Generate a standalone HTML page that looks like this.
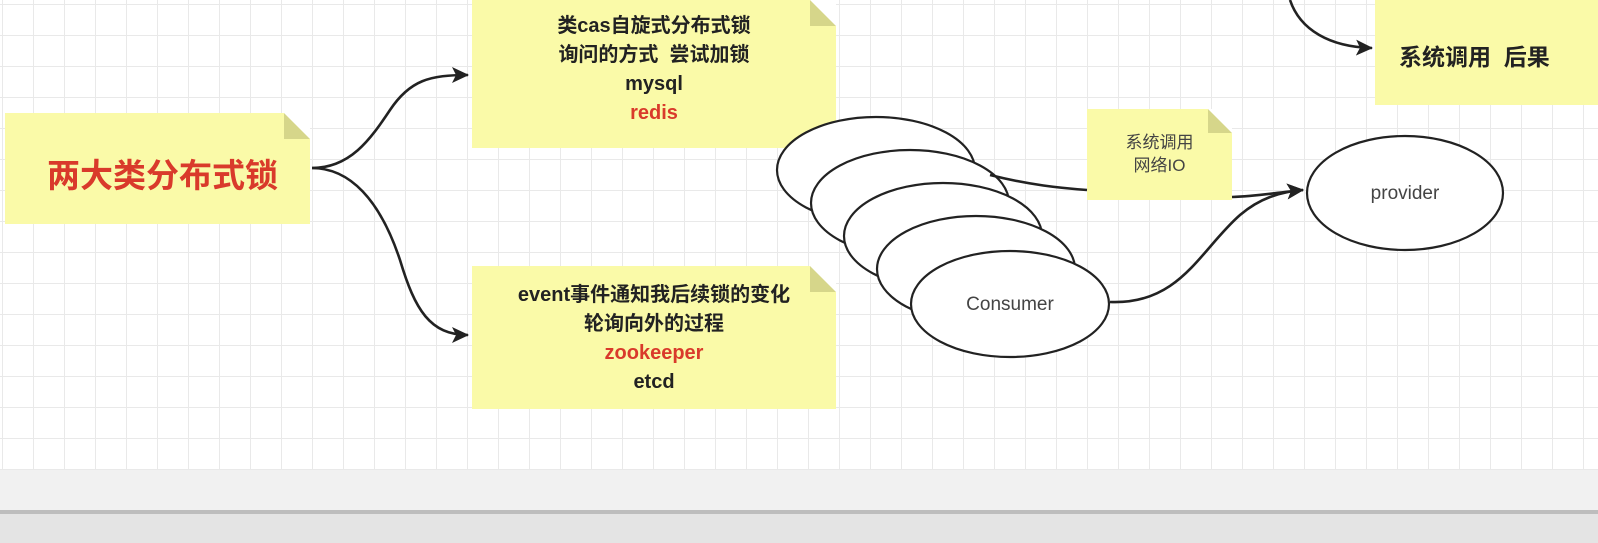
<!DOCTYPE html>
<html><head><meta charset="utf-8"><style>
html,body{margin:0;padding:0}
body{width:1598px;height:543px;overflow:hidden;position:relative;background:#fff;font-family:"Liberation Sans","Noto Sans CJK SC",sans-serif}
.grid{position:absolute;left:0;top:0;width:1598px;height:470px;background-image:linear-gradient(#e9e9e9 1px,transparent 1px),linear-gradient(90deg,#e9e9e9 1px,transparent 1px);background-size:31px 31px;background-position:2px 4px}
.note{position:absolute;background:#fafaa8;text-align:center;font-weight:bold;color:#222}
.fold{position:absolute;right:0;top:0;width:0;height:0;border-style:solid}
</style></head><body>
<div class="grid"></div>
<div style="position:absolute;left:0;top:470px;width:1598px;height:42px;background:#f1f1f1"></div>
<div style="position:absolute;left:0;top:510px;width:1598px;height:4px;background:#bdbdbd"></div>
<div style="position:absolute;left:0;top:514px;width:1598px;height:29px;background:#e4e4e4"></div>

<div class="note" style="left:5px;top:113px;width:305px;height:111px;">
<div class="fold" style="border-width:0 26px 26px 0;border-color:transparent #fff #d6d68a transparent"></div>
<div style="position:absolute;left:0;width:315px;top:36px;font-size:33px;color:#d93a2b">两大类分布式锁</div></div>

<div class="note" style="left:472px;top:0;width:364px;height:148px;font-size:20px;line-height:29px">
<div class="fold" style="border-width:0 26px 26px 0;border-color:transparent #fff #d6d68a transparent"></div>
<div style="padding-top:12px">类cas自旋式分布式锁<br>询问的方式&nbsp; 尝试加锁<br>mysql<br><span style="color:#d93a2b">redis</span></div></div>

<div class="note" style="left:472px;top:266px;width:364px;height:143px;font-size:20px;line-height:29px">
<div class="fold" style="border-width:0 26px 26px 0;border-color:transparent #fff #d6d68a transparent"></div>
<div style="padding-top:15px">event事件通知我后续锁的变化<br>轮询向外的过程<br><span style="color:#d93a2b">zookeeper</span><br>etcd</div></div>

<div class="note" style="left:1087px;top:109px;width:145px;height:91px;font-size:17px;font-weight:normal;color:#444;line-height:23px">
<div class="fold" style="border-width:0 24px 24px 0;border-color:transparent #fff #d6d68a transparent"></div>
<div style="padding-top:22px">系统调用<br>网络IO</div></div>

<div class="note" style="left:1375px;top:0;width:223px;height:105px;font-size:23px;text-align:left">
<div style="padding:38px 0 0 24px">系统调用&nbsp; 后果</div></div>

<svg width="1598" height="543" style="position:absolute;left:0;top:0">
<defs><marker id="a" markerWidth="18" markerHeight="16" refX="16" refY="8" orient="auto" markerUnits="userSpaceOnUse"><path d="M0,0 L17,8 L0,16 L4,8 z" fill="#222"/></marker></defs>
<g fill="none" stroke="#222" stroke-width="2.6">
<path d="M312,168 C350,168 370,140 390,110 C410,80 430,75 468,75" marker-end="url(#a)"/>
<path d="M312,168 C350,168 380,200 400,260 C415,310 430,335 468,335" marker-end="url(#a)"/>
<path d="M1232,197 C1260,196 1280,192 1303,190" marker-end="url(#a)"/>
<path d="M1110,302 C1180,305 1200,250 1240,215 C1260,198 1280,192 1303,190" marker-end="url(#a)"/>
<path d="M1290,0 C1300,30 1330,47 1372,48" marker-end="url(#a)"/>
</g>
<g fill="#fff" stroke="#222" stroke-width="2.2">
<ellipse cx="876" cy="170" rx="99" ry="53"/>
<ellipse cx="910" cy="203" rx="99" ry="53"/>
<ellipse cx="943" cy="236" rx="99" ry="53"/>
<ellipse cx="976" cy="269" rx="99" ry="53"/>
<ellipse cx="1010" cy="304" rx="99" ry="53"/>
<ellipse cx="1405" cy="193" rx="98" ry="57"/>
</g>
<path d="M990,175 C1030,185 1060,188 1087,190" fill="none" stroke="#222" stroke-width="2.6"/>
<text x="1010" y="310" font-size="19" text-anchor="middle" fill="#444" font-family="Liberation Sans,sans-serif">Consumer</text>
<text x="1405" y="199" font-size="19" text-anchor="middle" fill="#444" font-family="Liberation Sans,sans-serif">provider</text>
</svg>
</body></html>
